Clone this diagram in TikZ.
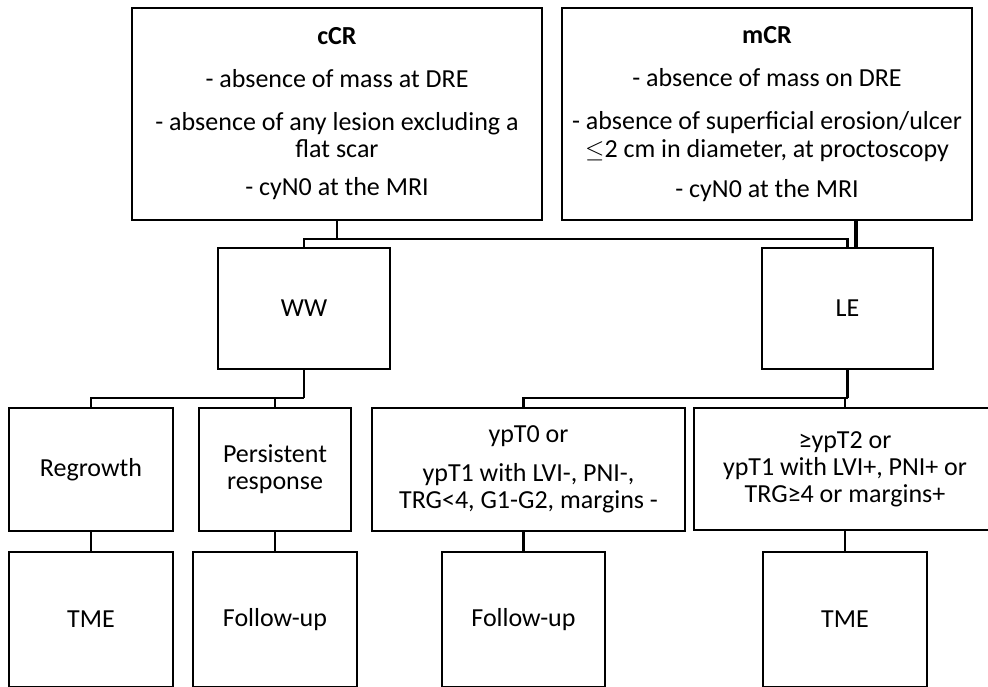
\documentclass[tikz,border=0pt]{standalone}
\usepackage{fontspec}
\setmainfont{Carlito}
\begin{document}
\begin{tikzpicture}[x=1pt,y=-1pt,line width=2.2pt,
box/.style={draw,inner sep=2pt,align=center,font=\fontsize{26}{27}\selectfont}]
\useasboundingbox(0,0)rectangle(988,686);
\clip(0,0)rectangle(988,686);
\node[box,minimum width=410,minimum height=212](ccr)at(337,114){\textbf{cCR}\\[16pt]- absence of mass at DRE\\[16pt]- absence of any lesion excluding a\\flat scar\\[11pt]- cyN0 at the MRI};
\node[box,minimum width=410,minimum height=212](mcr)at(767,114){\textbf{mCR}\\[16pt]- absence of mass on DRE\\[16pt]- absence of superficial erosion/ulcer\\[1pt]$\leq$2 cm in diameter, at proctoscopy\\[13pt]- cyN0 at the MRI};
\node[box,minimum width=172,minimum height=121](ww)at(304,308.5){WW};
\node[box,minimum width=171,minimum height=121](le)at(847.5,308.5){LE};
\node[box,minimum width=164,minimum height=123](regrowth)at(91,469.5){Regrowth};
\node[box,minimum width=152,minimum height=123](persist)at(275,469.5){Persistent\\response};
\node[box,minimum width=313,minimum height=123](ypt0)at(528.5,469.5){ypT0 or\\[12pt]ypT1 with LVI-, PNI-,\\TRG<4, G1-G2, margins -};
\node[box,minimum width=302,minimum height=122](ypt2)at(845,469){≥ypT2 or\\ypT1 with LVI+, PNI+ or\\TRG≥4 or margins+};
\node[box,minimum width=164,minimum height=135](tme1)at(91,619.5){TME};
\node[box,minimum width=164,minimum height=135](fu1)at(275,619.5){Follow-up};
\node[box,minimum width=163,minimum height=135](fu2)at(523.5,619.5){Follow-up};
\node[box,minimum width=164,minimum height=135](tme2)at(845,619.5){TME};
\draw(ccr.south)--++(0,18)coordinate(t1);
\draw(ww.north)|-(t1)-|(le.north);
\draw[line width=4pt](le.north)++(8.5,0)coordinate(m1)--(m1|-mcr.south);
\draw(ww.south)--++(0,28)coordinate(t2);
\draw(regrowth.north)|-(t2);
\draw(persist.north)--(persist.north|-t2);
\draw(le.south)--++(0,28)coordinate(t3);
\draw(fu2.north|-ypt0.north)|-(t3);
\draw(ypt2.north)--(ypt2.north|-t3);
\draw(regrowth.south)--(tme1.north);
\draw(persist.south)--(fu1.north);
\draw(fu2.north|-ypt0.south)--(fu2.north);
\draw(ypt2.south)--(tme2.north);
\end{tikzpicture}
\end{document}
